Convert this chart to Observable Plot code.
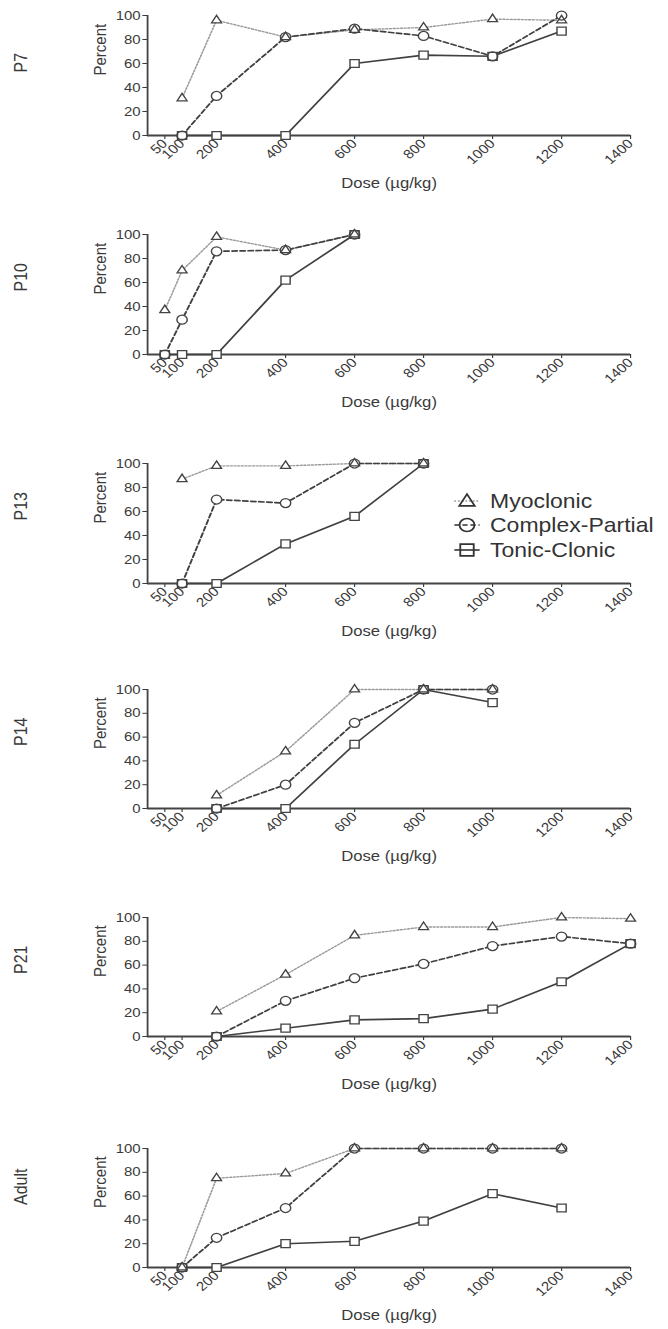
<!DOCTYPE html>
<html><head><meta charset="utf-8">
<script src="https://cdn.jsdelivr.net/npm/d3@7"></script>
<script src="https://cdn.jsdelivr.net/npm/@observablehq/plot@0.6"></script>
<style>
html,body{margin:0;padding:0;background:#fff;}
#root{position:relative;width:668px;height:1329px;overflow:hidden;font-family:"Liberation Sans",Arial,sans-serif;}
.panel{position:absolute;left:0;transform-origin:0 0;}
</style></head><body><div id="root"></div><script>
// ---------------- data ----------------
const panelNames = ["P7", "P10", "P13", "P14", "P21", "Adult"];
const seriesNames = ["Myoclonic", "Complex-Partial", "Tonic-Clonic"];
const xTicks = [50, 100, 200, 400, 600, 800, 1000, 1200, 1400];
const yTicks = [0, 20, 40, 60, 80, 100];
const xLabel = "Dose (µg/kg)";
const yLabel = "Percent";

const doseP7 = [100, 200, 400, 600, 800, 1000, 1200];
const myoP7  = [31, 96, 82, 88, 90, 97, 96];
const cpP7   = [0, 33, 82, 89, 83, 66, 100];
const tcP7   = [0, 0, 0, 60, 67, 66, 87];

const doseP10 = [50, 100, 200, 400, 600];
const myoP10  = [37, 70, 98, 87, 100];
const cpP10   = [0, 29, 86, 87, 100];
const tcP10   = [0, 0, 0, 62, 100];

const doseP13 = [100, 200, 400, 600, 800];
const myoP13  = [87, 98, 98, 100, 100];
const cpP13   = [0, 70, 67, 100, 100];
const tcP13   = [0, 0, 33, 56, 100];

const doseP14 = [200, 400, 600, 800, 1000];
const myoP14  = [11, 48, 100, 100, 100];
const cpP14   = [0, 20, 72, 100, 100];
const tcP14   = [0, 0, 54, 100, 89];

const doseP21 = [200, 400, 600, 800, 1000, 1200, 1400];
const myoP21  = [21, 52, 85, 92, 92, 100, 99];
const cpP21   = [0, 30, 49, 61, 76, 84, 78];
const tcP21   = [0, 7, 14, 15, 23, 46, 78];

const doseAdult = [100, 200, 400, 600, 800, 1000, 1200];
const myoAdult  = [0, 75, 79, 100, 100, 100, 100];
const cpAdult   = [0, 25, 50, 100, 100, 100, 100];
const tcAdult   = [0, 0, 20, 22, 39, 62, 50];

const panelDoses  = [doseP7, doseP10, doseP13, doseP14, doseP21, doseAdult];
const panelValues = [
  [myoP7, cpP7, tcP7],
  [myoP10, cpP10, tcP10],
  [myoP13, cpP13, tcP13],
  [myoP14, cpP14, tcP14],
  [myoP21, cpP21, tcP21],
  [myoAdult, cpAdult, tcAdult]
];

// ---------------- styles & layout ----------------
const S = 1.15;                 // horizontal stretch of the original figure
const W = Math.round(668 / S);
const axisLeft = 147, axisRight = 630;
const mL = axisLeft / S, mR = W - axisRight / S;
const yTop  = [15, 234, 463, 689, 917, 1148];
const yZero = [135, 354, 583, 808, 1036, 1267];
const mT = 12, mB = 95;
const FONT = "'Liberation Sans', Arial, sans-serif";
const INK = "#3a3a3a";
const seriesStyle = {
  "Myoclonic":       {symbol: "triangle", r: 3.2, stroke: "#9a9a9a", dash: "1.6,1.6", width: 1.4, lr: 5.0},
  "Complex-Partial": {symbol: "circle",   r: 4.5, stroke: "#404040", dash: "4.5,2.5", width: 1.7, lr: 6.5},
  "Tonic-Clonic":    {symbol: "square",   r: 4.5, stroke: "#404040", dash: null,      width: 1.6, lr: 6.6}
};

const root = document.getElementById("root");

panelNames.forEach((name, i) => {
  const rows = [];
  seriesNames.forEach((s, k) => {
    panelDoses[i].forEach((d, j) => rows.push({series: s, dose: d, pct: panelValues[i][k][j]}));
  });
  const bySeries = s => rows.filter(r => r.series === s);
  const lines = seriesNames.map(s => Plot.line(bySeries(s), {
    x: "dose", y: "pct", stroke: seriesStyle[s].stroke, strokeWidth: seriesStyle[s].width,
    strokeDasharray: seriesStyle[s].dash || undefined
  }));
  const fills = seriesNames.map(s => Plot.dot(bySeries(s), {
    x: "dose", y: "pct", symbol: seriesStyle[s].symbol, r: seriesStyle[s].r, fill: "white", stroke: "none"
  }));
  const outlines = seriesNames.map(s => Plot.dot(bySeries(s), {
    x: "dose", y: "pct", symbol: seriesStyle[s].symbol, r: seriesStyle[s].r, fill: "none",
    stroke: "#444", strokeWidth: 1.25
  }));
  const innerH = yZero[i] - yTop[i];
  const plot = Plot.plot({
    width: W, height: mT + innerH + mB,
    marginTop: mT, marginBottom: mB, marginLeft: mL, marginRight: mR,
    style: {background: "transparent", fontFamily: FONT, fontSize: "13px", color: INK, overflow: "visible"},
    x: {domain: [0, 1400]},
    y: {domain: [0, 100]},
    marks: [
      Plot.axisY({ticks: yTicks, tickFormat: d => String(d), tickSize: 4, tickPadding: 2, label: null, fontSize: 13}),
      Plot.axisX({ticks: xTicks, tickFormat: d => String(d), tickSize: 4, tickPadding: 2, tickRotate: -45, label: null, fontSize: 13}),
      Plot.ruleX([0], {stroke: "#444", strokeWidth: 1.6}),
      Plot.ruleY([0], {stroke: "#444", strokeWidth: 2}),
      ...lines, ...fills, ...outlines,
      Plot.text([yLabel], {text: d => d, frameAnchor: "left", dx: -(axisLeft - 100) / S, rotate: -90, fontSize: 15, fill: INK}),
      Plot.text([xLabel], {text: d => d, frameAnchor: "bottom", dy: 52, fontSize: 14.5, fill: INK}),
      Plot.text([name], {text: d => d, frameAnchor: "left", dx: -(axisLeft - 21) / S, dy: -3, rotate: -90, fontSize: 16, fill: INK})
    ]
  });
  const div = document.createElement("div");
  div.className = "panel";
  div.style.top = (yTop[i] - mT) + "px";
  div.style.transform = `scaleX(${S})`;
  div.appendChild(plot);
  root.appendChild(div);
});

// ---------------- legend ----------------
const legendRowsY = [501, 525, 550];
const legTop = 480;
const legDiv = document.createElement("div");
legDiv.className = "panel";
legDiv.style.top = legTop + "px";
legDiv.style.transform = `scaleX(${S})`;
const leg = d3.select(legDiv).append("svg").attr("width", W).attr("height", 90)
  .style("font-family", FONT).style("overflow", "visible");
const symMap = {triangle: d3.symbolTriangle, circle: d3.symbolCircle, square: d3.symbolSquare};
seriesNames.forEach((s, k) => {
  const st = seriesStyle[s];
  const g = leg.append("g").attr("transform", `translate(0,${legendRowsY[k] - legTop})`);
  const cx = 467 / S;
  g.append("line").attr("x1", cx - 11).attr("x2", cx + 11).attr("y1", 0).attr("y2", 0)
    .attr("stroke", k === 0 ? st.stroke : "#333").attr("stroke-width", 1.6)
    .attr("stroke-dasharray", st.dash || null);
  g.append("path").attr("transform", `translate(${cx},${k === 0 ? 1 : 0})`)
    .attr("d", d3.symbol(symMap[st.symbol], Math.PI * st.lr * st.lr)())
    .attr("fill", "none").attr("stroke", "#333").attr("stroke-width", 1.6);
  g.append("text").attr("x", 490 / S).attr("y", 0).attr("dy", "0.35em")
    .attr("font-size", 20).attr("fill", "#333").text(s);
});
root.appendChild(legDiv);
</script></body></html>
